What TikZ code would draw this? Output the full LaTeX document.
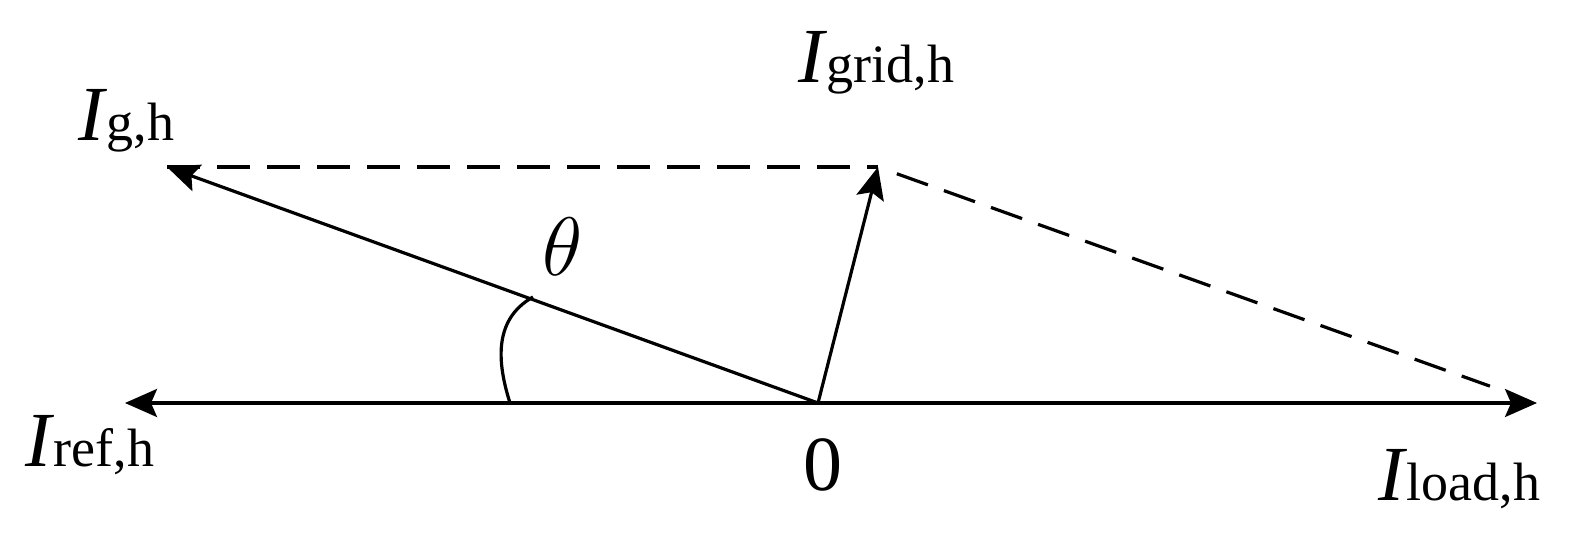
\documentclass[tikz,border=0pt]{standalone}
\usepackage{fontspec}
\setmainfont{Liberation Serif}
\usetikzlibrary{arrows.meta}
\newcommand{\cur}[1]{{\itshape I}\kern0.5pt{\fontsize{13.5}{16}\selectfont #1}}
\tikzset{
  vec/.style={line width=0.8pt,-{Stealth[length=8pt,width=7pt,inset=1.5pt]}},
  dsh/.style={line width=0.8pt,dash pattern=on 8.25pt off 4.25pt},
  lbl/.style={inner sep=0pt,font=\fontsize{19.5}{22}\selectfont},
}
\begin{document}
\begin{tikzpicture}[x=0.25pt,y=0.25pt]
\useasboundingbox (0,0) rectangle (1571,535);
\coordinate (O) at (818,132);
\coordinate (ref) at (125,132);
\coordinate (load) at (1537,132);
\coordinate (g) at (167,368);
\coordinate (grid) at (878,368);
\coordinate (a0) at (510,132);
\coordinate (a1) at (533,238);
\draw[dsh] (g) -- (grid);
\draw[dsh,shorten <=5pt,shorten >=12.5pt] (grid) -- (load);
\draw[vec] (O) -- (ref);
\draw[vec] (O) -- (load);
\draw[vec] (O) -- (g);
\draw[vec] (O) -- (grid);
\draw[line width=0.8pt] (a0) .. controls (498,170) and (492,215) .. (a1);
\node[lbl,anchor=base west] (lg) at (78,394) {\cur{g,h}};
\node[lbl,anchor=base west] (lgrid) at (798,452) {\cur{grid,h}};
\node[lbl,font=\fontsize{22}{24}\selectfont] (lth) at (563,288) {$\theta$};
\node[lbl,anchor=base west] (lref) at (25,68) {\cur{ref,h}};
\node[lbl,anchor=base] (l0) at (823,45) {0};
\node[lbl,anchor=base west] (lload) at (1378,35) {\cur{load,h}};
\end{tikzpicture}
\end{document}
